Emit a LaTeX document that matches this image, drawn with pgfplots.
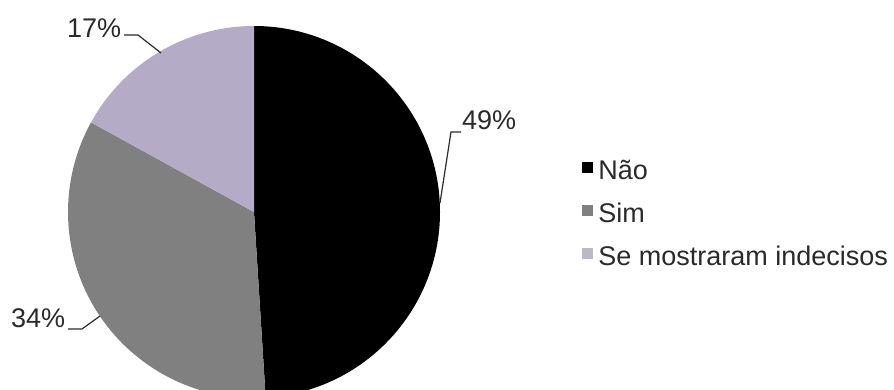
\documentclass[border=0pt]{standalone}
\usepackage{pgfplots}
\usepackage{pgfplotstable}
\pgfplotsset{compat=1.18}
\usepackage{fontspec}
\setmainfont{Liberation Sans}
\definecolor{cnao}{HTML}{000000}
\definecolor{csim}{HTML}{808080}
\definecolor{cind}{HTML}{B4ABC6}
\definecolor{cindleg}{HTML}{BDB8C6}
\definecolor{txt}{HTML}{2A2A2A}
\pgfplotstableread{
label value
Nao 49
Sim 34
Ind 17
}\piedata
\begin{document}
\begin{tikzpicture}
\useasboundingbox (0,0) rectangle (894bp,390bp);
\pgfplotstablegetelem{0}{value}\of\piedata \edef\va{\pgfplotsretval}
\pgfplotstablegetelem{1}{value}\of\piedata \edef\vb{\pgfplotsretval}
\pgfplotstablegetelem{2}{value}\of\piedata \edef\vc{\pgfplotsretval}
\pgfmathsetmacro\aA{90-3.6*\va}
\pgfmathsetmacro\aB{\aA-3.6*\vb}
\pgfmathsetmacro\aC{\aB-3.6*\vc}
\begin{axis}[
  at={(0,0)}, anchor=south west,
  scale only axis, width=894bp, height=390bp,
  xmin=0, xmax=894, ymin=0, ymax=390,
  axis lines=none, clip=true,
  legend style={draw=none, fill=none, at={(axis cs:582,230)}, anchor=north west,
    inner sep=0pt, outer sep=0pt,
    font=\fontsize{27bp}{30bp}\selectfont, text=txt,
    row sep=18bp,
    nodes={inner sep=0pt, text height=19bp, text depth=6bp},
    /tikz/every odd column/.style={column sep=6bp}},
  legend cell align=left,
]
\fill[cnao] (axis cs:254,178) -- (axis cs:254,364) arc[start angle=90, end angle=\aA, radius=186bp] -- cycle;
\fill[csim] (axis cs:254,178) -- ++(\aA:186bp) arc[start angle=\aA, end angle=\aB, radius=186bp] -- cycle;
\fill[cind] (axis cs:254,178) -- ++(\aB:186bp) arc[start angle=\aB, end angle=\aC, radius=186bp] -- cycle;
\addlegendimage{legend image code/.code={\fill[cnao] (0bp,0bp) rectangle (10bp,10bp);}}
\addlegendentry{Não}
\addlegendimage{legend image code/.code={\fill[csim] (0bp,0bp) rectangle (10bp,10bp);}}
\addlegendentry{Sim}
\addlegendimage{legend image code/.code={\fill[cindleg] (0bp,0bp) rectangle (10bp,10bp);}}
\addlegendentry{Se mostraram indecisos}
\begin{scope}[font=\fontsize{27bp}{30bp}\selectfont, text=txt]
\node[anchor=base west, inner sep=0pt] at (axis cs:462,261) {49\%};
\node[anchor=base west, inner sep=0pt] at (axis cs:67,353) {17\%};
\node[anchor=base west, inner sep=0pt] at (axis cs:11,63) {34\%};
\end{scope}
\draw[txt, line width=1.2bp] (axis cs:440,187) -- (axis cs:451,258) -- (axis cs:461,258);
\draw[txt, line width=1.2bp] (axis cs:124,355) -- (axis cs:138,355) -- (axis cs:161,337);
\draw[txt, line width=1.2bp] (axis cs:68,61) -- (axis cs:82,61) -- (axis cs:100,74);
\end{axis}
\end{tikzpicture}
\end{document}
